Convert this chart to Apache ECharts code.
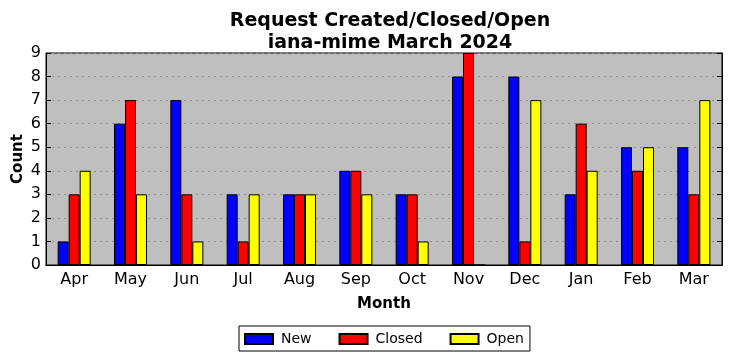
<!DOCTYPE html>
<html><head><meta charset="utf-8">
<script src="https://cdn.jsdelivr.net/npm/echarts@6/dist/echarts.min.js"></script>
<style>html,body{margin:0;padding:0;background:#fff}#c{width:732px;height:361px}</style>
</head><body><div id="c"></div>
<script>
const months = ['Apr','May','Jun','Jul','Aug','Sep','Oct','Nov','Dec','Jan','Feb','Mar'];
const newVals = [1,6,7,3,3,4,3,8,8,3,5,5];
const closedVals = [3,7,3,1,3,4,3,9,1,6,4,3];
const openVals = [4,3,1,3,3,3,1,0,7,4,5,7];
const yTicks = [0,1,2,3,4,5,6,7,8,9];

const F = 'DejaVu Sans';
const chart = echarts.init(document.getElementById('c'));
const barStyle = c => ({color: c, borderColor: '#000', borderWidth: 1});
chart.setOption({
  animation: false,
  title: {
    text: 'Request Created/Closed/Open\niana-mime March 2024',
    left: 385, top: 5, textAlign: 'center',
    textStyle: {fontFamily: F, fontSize: 19, fontWeight: 'bold', color: '#000', lineHeight: 22}
  },
  legend: {
    data: ['New','Closed','Open'],
    left: 239, top: 326,
    padding: [6, 6, 5, 5],
    itemWidth: 28, itemHeight: 10, itemGap: 27,
    borderColor: '#000', borderWidth: 1, borderRadius: 0,
    textStyle: {fontFamily: F, fontSize: 14, color: '#000', padding: [0, 0, 0, 3]},
    icon: 'rect'
  },
  grid: {left: 46, right: 10, top: 53, bottom: 96, outerBoundsMode: 'none', containLabel: false, backgroundColor: '#bfbfbf', show: true, borderColor: '#000', borderWidth: 1},
  xAxis: [{
    type: 'category', data: months,
    name: 'Month', nameLocation: 'middle', nameGap: 32, nameMoveOverlap: false,
    nameTextStyle: {fontFamily: F, fontSize: 15, fontWeight: 'bold', color: '#000'},
    axisLine: {lineStyle: {color: '#000', width: 1}},
    axisTick: {inside: true, length: 5, alignWithLabel: true, lineStyle: {color: '#000'}},
    axisLabel: {fontFamily: F, fontSize: 16, color: '#000', margin: 7},
    splitLine: {show: false}
  }, {
    type: 'category', data: months, position: 'top',
    axisLine: {lineStyle: {color: '#000'}},
    axisTick: {inside: true, length: 5, alignWithLabel: true, lineStyle: {color: '#000'}},
    axisLabel: {show: false}
  }],
  yAxis: [{
    type: 'value', min: 0, max: 9, interval: 1,
    name: 'Count', nameLocation: 'middle', nameGap: 20, nameMoveOverlap: false,
    nameTextStyle: {fontFamily: F, fontSize: 15, fontWeight: 'bold', color: '#000'},
    axisLine: {show: true, lineStyle: {color: '#000'}},
    axisTick: {show: true, inside: true, length: 5, lineStyle: {color: '#000'}},
    axisLabel: {fontFamily: F, fontSize: 16, color: '#000', margin: 5, formatter: v => String(yTicks[v] ?? v)},
    splitLine: {show: true, lineStyle: {color: '#8c8c8c', type: [2, 4], width: 1}}
  }, {
    type: 'value', min: 0, max: 9, interval: 1, position: 'right',
    axisLine: {show: true, lineStyle: {color: '#000'}},
    axisTick: {show: true, inside: true, length: 5, lineStyle: {color: '#000'}},
    axisLabel: {show: false}, splitLine: {show: false}
  }],
  series: [
    {name: 'New', type: 'bar', data: newVals, barWidth: 11, barGap: '0%', itemStyle: barStyle('#0000ff')},
    {name: 'Closed', type: 'bar', data: closedVals, barWidth: 11, barGap: '0%', itemStyle: barStyle('#ff0000')},
    {name: 'Open', type: 'bar', data: openVals, barWidth: 11, barGap: '0%', itemStyle: barStyle('#ffff00')}
  ]
});
</script></body></html>
